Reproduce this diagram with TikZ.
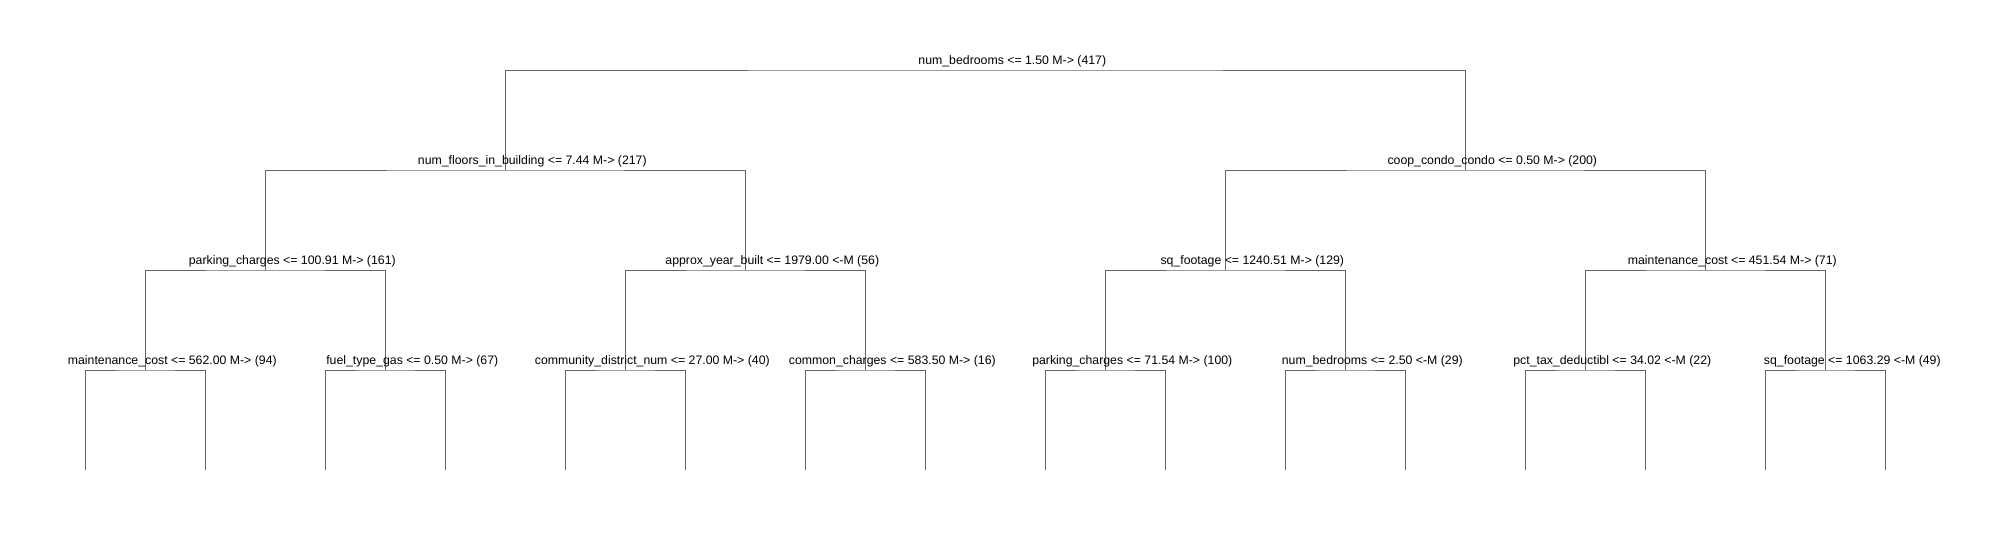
\documentclass[tikz,border=0pt]{standalone}
\usepackage{fontspec}
\setmainfont{Liberation Sans}
\definecolor{treeline}{RGB}{102,102,102}
\tikzset{
	lbl/.style={anchor=base, inner sep=0pt, font=\fontsize{12.3}{14}\selectfont},
	edge/.style={draw=treeline, line width=0.9pt}
}
\begin{document}
\begin{tikzpicture}[x=1pt,y=1pt]
	\useasboundingbox (0,0) rectangle (2003,540);
	% split points
	\coordinate (r) at (985.3,470);
	\coordinate (a1) at (505.3,370);
	\coordinate (a2) at (1465.3,370);
	\coordinate (b1) at (265.3,270);
	\coordinate (b2) at (745.3,270);
	\coordinate (b3) at (1225.3,270);
	\coordinate (b4) at (1705.3,270);
	\coordinate (c1) at (145.3,170);
	\coordinate (c2) at (385.3,170);
	\coordinate (c3) at (625.3,170);
	\coordinate (c4) at (865.3,170);
	\coordinate (c5) at (1105.3,170);
	\coordinate (c6) at (1345.3,170);
	\coordinate (c7) at (1585.3,170);
	\coordinate (c8) at (1825.3,170);
	% leaves
	\foreach \i in {0,...,15}
		\coordinate (f\i) at (85.3+120*\i,70);

	\draw[edge] (a1) |- (r) -| (a2);
	\draw[edge] (b1) |- (a1) -| (b2);
	\draw[edge] (b3) |- (a2) -| (b4);
	\draw[edge] (c1) |- (b1) -| (c2);
	\draw[edge] (c3) |- (b2) -| (c4);
	\draw[edge] (c5) |- (b3) -| (c6);
	\draw[edge] (c7) |- (b4) -| (c8);
	\draw[edge] (f0) |- (c1) -| (f1);
	\draw[edge] (f2) |- (c2) -| (f3);
	\draw[edge] (f4) |- (c3) -| (f5);
	\draw[edge] (f6) |- (c4) -| (f7);
	\draw[edge] (f8) |- (c5) -| (f9);
	\draw[edge] (f10) |- (c6) -| (f11);
	\draw[edge] (f12) |- (c7) -| (f13);
	\draw[edge] (f14) |- (c8) -| (f15);

	% split labels
	\node[lbl] (lr) at (1012.3,475.5) {num\_bedrooms <= 1.50 M-> (417)};
	\node[lbl] (la1) at (532.3,375.5) {num\_floors\_in\_building <= 7.44 M-> (217)};
	\node[lbl] (la2) at (1492.3,375.5) {coop\_condo\_condo <= 0.50 M-> (200)};
	\node[lbl] (lb1) at (292.3,275.5) {parking\_charges <= 100.91 M-> (161)};
	\node[lbl] (lb2) at (772.3,275.5) {approx\_year\_built <= 1979.00 <-M (56)};
	\node[lbl] (lb3) at (1252.3,275.5) {sq\_footage <= 1240.51 M-> (129)};
	\node[lbl] (lb4) at (1732.3,275.5) {maintenance\_cost <= 451.54 M-> (71)};
	\node[lbl] (lc1) at (172.3,175.5) {maintenance\_cost <= 562.00 M-> (94)};
	\node[lbl] (lc2) at (412.3,175.5) {fuel\_type\_gas <= 0.50 M-> (67)};
	\node[lbl] (lc3) at (652.3,175.5) {community\_district\_num <= 27.00 M-> (40)};
	\node[lbl] (lc4) at (892.3,175.5) {common\_charges <= 583.50 M-> (16)};
	\node[lbl] (lc5) at (1132.3,175.5) {parking\_charges <= 71.54 M-> (100)};
	\node[lbl] (lc6) at (1372.3,175.5) {num\_bedrooms <= 2.50 <-M (29)};
	\node[lbl] (lc7) at (1612.3,175.5) {pct\_tax\_deductibl <= 34.02 <-M (22)};
	\node[lbl] (lc8) at (1852.3,175.5) {sq\_footage <= 1063.29 <-M (49)};
\end{tikzpicture}
\end{document}
